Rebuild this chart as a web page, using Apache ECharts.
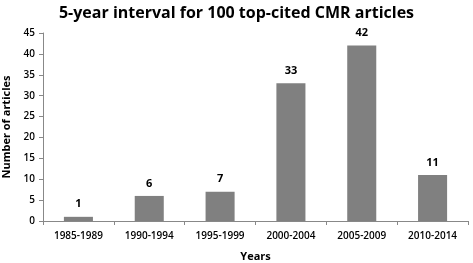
<!DOCTYPE html>
<html>
<head>
<meta charset="utf-8">
<script src="https://cdn.jsdelivr.net/npm/echarts@6/dist/echarts.min.js"></script>
<style>
  html, body { margin: 0; padding: 0; background: #fff; }
  #chart { width: 473px; height: 263px; }
</style>
</head>
<body>
<div id="chart"></div>
<script>
const categories = ["1985-1989", "1990-1994", "1995-1999", "2000-2004", "2005-2009", "2010-2014"]
const articleCounts = [1, 6, 7, 33, 42, 11]

const chart = echarts.init(document.getElementById("chart"))

const font = "Open Sans"

chart.setOption({
  animation: false,
  backgroundColor: "#fff",
  title: {
    text: "5-year interval for 100 top-cited CMR articles",
    left: "center",
    top: 0,
    textStyle: { fontFamily: font, fontSize: 16, fontWeight: "bold", color: "#000" },
  },
  grid: { left: 43, right: 5, top: 33, bottom: 42, outerBoundsMode: "none", containLabel: false },
  xAxis: {
    type: "category",
    data: categories,
    name: "Years",
    nameLocation: "middle",
    nameGap: 30,
    nameTextStyle: { fontFamily: font, fontSize: 11, fontWeight: "bold", color: "#000" },
    axisLine: { lineStyle: { color: "#888" } },
    axisTick: { show: true, length: 4, lineStyle: { color: "#888" } },
    axisLabel: { fontFamily: font, fontSize: 10, fontWeight: 600, color: "#000", margin: 10 },
  },
  yAxis: {
    type: "value",
    min: 0,
    max: 45,
    interval: 5,
    name: "Number of articles",
    nameLocation: "middle",
    nameGap: 30,
    nameTextStyle: { fontFamily: font, fontSize: 11, fontWeight: "bold", color: "#000" },
    axisLine: { show: true, lineStyle: { color: "#888" } },
    axisTick: { show: true, length: 4, lineStyle: { color: "#888" } },
    splitLine: { show: false },
    axisLabel: { fontFamily: font, fontSize: 10, fontWeight: 600, color: "#000", margin: 8 },
  },
  series: [
    {
      type: "bar",
      data: articleCounts,
      barWidth: "41%",
      itemStyle: { color: "#808080" },
      label: {
        show: true,
        position: "top",
        distance: 7,
        fontFamily: font,
        fontSize: 11,
        fontWeight: "bold",
        color: "#000",
      },
    },
  ],
})
</script>
</body>
</html>
